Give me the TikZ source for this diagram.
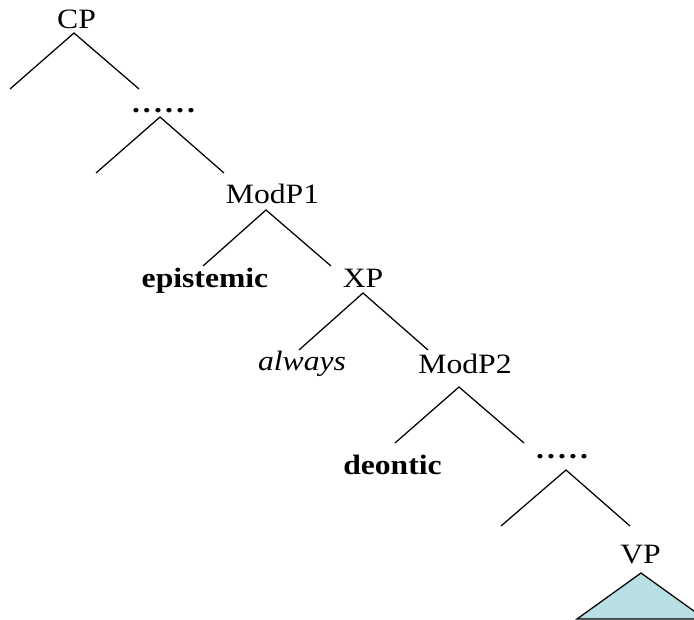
\documentclass[tikz,border=0pt]{standalone}
\usepackage{fontspec}
\setmainfont{Liberation Serif}[FakeStretch=1.13]
\definecolor{tri}{RGB}{184,223,227}
\newcommand\dk{.\kern3.1pt}
\begin{document}
\begin{tikzpicture}[x=1pt,y=-1pt,
  lbl/.style={inner sep=0pt,anchor=base,font=\fontsize{28}{30}\selectfont},
  br/.style={line width=1.25pt}]
\useasboundingbox (0,0) rectangle (694,620);
% labels (positioned at base line)
\node[lbl] (cp) at (76.5,29) {CP};
\node[lbl] (dots1) at (163.5,113) {\textbf{\dk\dk\dk\dk\dk.}};
\node[lbl] (modp1) at (272.5,204) {ModP1};
\node[lbl] (epi) at (205,288) {\textbf{epistemic}};
\node[lbl] (xp) at (363,288) {XP};
\node[lbl] (alw) at (302,371) {\textit{always}};
\node[lbl] (modp2) at (465,374) {ModP2};
\node[lbl] (deo) at (392.5,475) {\textbf{deontic}};
\node[lbl] (dots2) at (562,458) {\textbf{\dk\dk\dk\dk.}};
\node[lbl] (vp) at (640.5,563) {VP};
% branch points
\coordinate (a1) at (74,33); \coordinate (l1) at (10,89); \coordinate (r1) at (139,89);
\coordinate (a2) at (160,117); \coordinate (l2) at (96,173); \coordinate (r2) at (224,173);
\coordinate (a3) at (266,210); \coordinate (l3) at (203,266); \coordinate (r3) at (331,266);
\coordinate (a4) at (363,293); \coordinate (l4) at (299,350); \coordinate (r4) at (428,350);
\coordinate (a5) at (459,387); \coordinate (l5) at (395,443); \coordinate (r5) at (524,443);
\coordinate (a6) at (566,470); \coordinate (l6) at (501,526); \coordinate (r6) at (630,526);
\coordinate (t0) at (641,573); \coordinate (tl) at (577,619); \coordinate (tr) at (705,619);
\draw[br] (l1) -- (a1) -- (r1);
\draw[br] (l2) -- (a2) -- (r2);
\draw[br] (l3) -- (a3) -- (r3);
\draw[br] (l4) -- (a4) -- (r4);
\draw[br] (l5) -- (a5) -- (r5);
\draw[br] (l6) -- (a6) -- (r6);
\begin{scope}
\clip (0,0) rectangle (694,620);
\draw[br,fill=tri] (tl) -- (t0) -- (tr) -- cycle;
\end{scope}
\end{tikzpicture}
\end{document}
